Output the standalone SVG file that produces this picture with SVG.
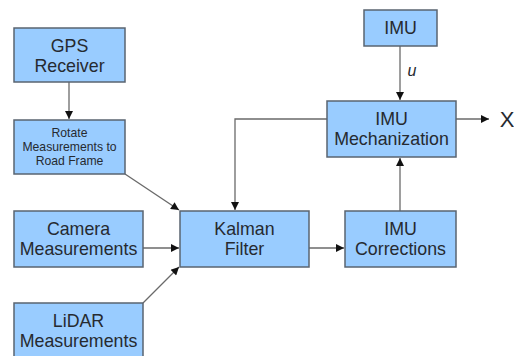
<svg xmlns="http://www.w3.org/2000/svg" width="514" height="356" viewBox="0 0 514 356">
<defs>
<marker id="ah" viewBox="0 0 10 10" refX="10" refY="5" markerWidth="9" markerHeight="8" markerUnits="userSpaceOnUse" orient="auto">
<path d="M0,0 L10,5 L0,10 z" fill="#111"/>
</marker>
<style>
.box{fill:#99ccff;stroke:#5a6470;stroke-width:1.5}
.t{font-family:"Liberation Sans",Arial,sans-serif;font-size:17.8px;fill:#262a30;text-anchor:middle}
.s{font-size:12.2px}
.c{fill:none;stroke:#6a6a6a;stroke-width:1.3}
</style>
</defs>
<rect width="514" height="356" fill="#fff"/>
<g id="connectors">
<line class="c" x1="69" y1="82" x2="69" y2="119" marker-end="url(#ah)"/>
<line class="c" x1="125" y1="174" x2="179" y2="210" marker-end="url(#ah)"/>
<line class="c" x1="143" y1="248" x2="179" y2="248" marker-end="url(#ah)"/>
<line class="c" x1="143" y1="303" x2="179" y2="267" marker-end="url(#ah)"/>
<line class="c" x1="309" y1="248" x2="344" y2="248" marker-end="url(#ah)"/>
<line class="c" x1="400" y1="211" x2="400" y2="158" marker-end="url(#ah)"/>
<line class="c" x1="400" y1="46" x2="400" y2="100" marker-end="url(#ah)"/>
<polyline class="c" points="327,119 235,119 235,210" marker-end="url(#ah)"/>
<line class="c" x1="456" y1="119" x2="489" y2="119" marker-end="url(#ah)"/>
<text x="412" y="76" class="t" style="font-style:italic;font-size:16px">u</text>
<text x="507" y="127" class="t" style="font-size:22px">X</text>
</g>
<g id="gps"><rect class="box" x="14" y="28" width="111" height="54"/><text class="t" x="69.5" y="52">GPS</text><text class="t" x="69.5" y="72">Receiver</text></g>
<g id="rotate"><rect class="box" x="14" y="120" width="111" height="54"/><text class="t s" x="69.5" y="137">Rotate</text><text class="t s" x="69.5" y="151">Measurements to</text><text class="t s" x="69.5" y="165">Road Frame</text></g>
<g id="camera"><rect class="box" x="14" y="211" width="129" height="56"/><text class="t" x="78.5" y="235">Camera</text><text class="t" x="78.5" y="255">Measurements</text></g>
<g id="lidar"><rect class="box" x="14" y="303" width="129" height="60"/><text class="t" x="78.5" y="327">LiDAR</text><text class="t" x="78.5" y="347">Measurements</text></g>
<g id="kalman"><rect class="box" x="180" y="211" width="129" height="56"/><text class="t" x="244.5" y="235">Kalman</text><text class="t" x="244.5" y="255">Filter</text></g>
<g id="corrections"><rect class="box" x="345" y="211" width="111" height="56"/><text class="t" x="400.5" y="235">IMU</text><text class="t" x="400.5" y="255">Corrections</text></g>
<g id="mechanization"><rect class="box" x="327" y="101" width="129" height="56"/><text class="t" x="391.5" y="125">IMU</text><text class="t" x="391.5" y="145">Mechanization</text></g>
<g id="imu"><rect class="box" x="364" y="10" width="73" height="36"/><text class="t" x="400.5" y="34">IMU</text></g>
</svg>
